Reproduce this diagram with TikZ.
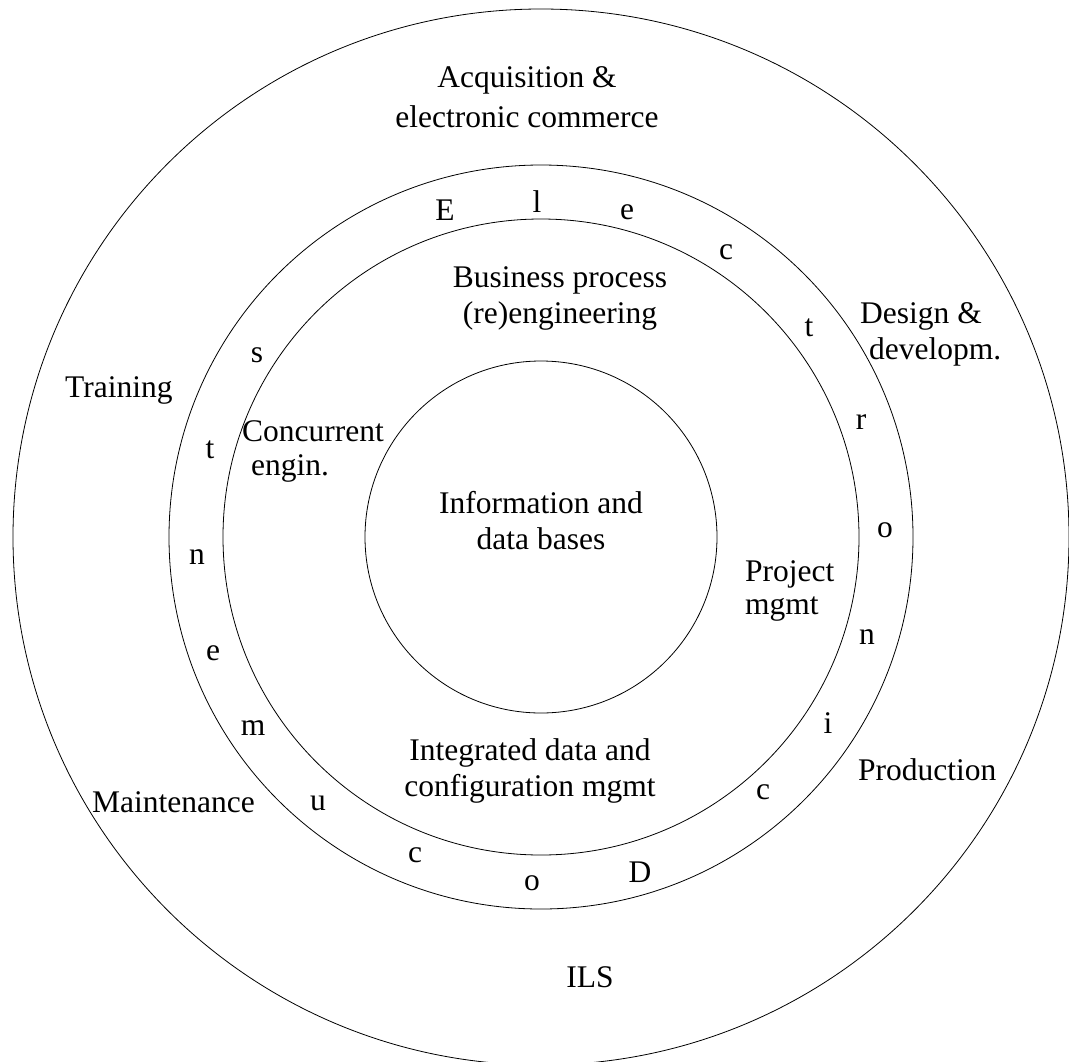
\documentclass[tikz,border=0pt]{standalone}
\usepackage{fontspec}
\setmainfont{Liberation Serif}
\begin{document}
\begin{tikzpicture}[x=1pt,y=-1pt,
  ring/.style={draw=black,line width=0.8pt},
  lbl/.style={inner sep=0pt,font=\fontsize{31.5}{36}\selectfont},
  ltr/.style={inner sep=0pt,font=\fontsize{31.5}{36}\selectfont}]
\useasboundingbox (0,0) rectangle (1069,1061);
\clip (0,0) rectangle (1069,1061);
\coordinate (c) at (541,537);
\draw[ring] (c) circle[radius=176];
\draw[ring] (c) circle[radius=318];
\draw[ring] (c) circle[radius=372];
\draw[ring] (c) circle[radius=528];
% outer ring labels
\node[lbl,align=center,anchor=north,font=\fontsize{31.5}{40}\selectfont] (acq) at (527,66.5) {Acquisition \&\\electronic commerce};
\node[lbl,align=left,anchor=west] (des) at (860,334) {Design \&\\\hspace*{9pt}developm.};
\node[lbl,anchor=west] (prod) at (858,770) {Production};
\node[lbl,anchor=base] (ils) at (590,987) {ILS};
\node[lbl,anchor=base west] (mnt) at (92,812) {Maintenance};
\node[lbl,anchor=base west] (trn) at (65,397) {Training};
% inner ring labels
\node[lbl,align=center] (bpr) at (560,298) {Business process\\(re)engineering};
\node[lbl,align=left,anchor=north west,font=\fontsize{31.5}{34}\selectfont] (ce) at (242,420) {Concurrent\\\hspace*{9pt}engin.};
\node[lbl,align=left,anchor=north west,font=\fontsize{31.5}{32.5}\selectfont] (pm) at (745,560.5) {Project\\mgmt};
\node[lbl,align=center,anchor=north] (icm) at (530,738.5) {Integrated data and\\configuration mgmt};
\node[lbl,align=center] (idb) at (541,521) {Information and\\data bases};
% ring letters
\node[ltr] (l1) at (445,210) {E};
\node[ltr] (l2) at (537,202) {l};
\node[ltr] (l3) at (627,212) {e};
\node[ltr] (l4) at (726,252) {c};
\node[ltr] (l5) at (809,328) {t};
\node[ltr] (l6) at (861,422) {r};
\node[ltr] (l7) at (885,530) {o};
\node[ltr] (l8) at (867,637) {n};
\node[ltr] (l9) at (828,723) {i};
\node[ltr] (l10) at (763,792) {c};
\node[ltr] (d1) at (640,872) {D};
\node[ltr] (d2) at (532,883) {o};
\node[ltr] (d3) at (415,855) {c};
\node[ltr] (d4) at (318,803) {u};
\node[ltr] (d5) at (253,728) {m};
\node[ltr] (d6) at (213,653) {e};
\node[ltr] (d7) at (197,557) {n};
\node[ltr] (d8) at (210,450) {t};
\node[ltr] (d9) at (257,355) {s};
\end{tikzpicture}
\end{document}
